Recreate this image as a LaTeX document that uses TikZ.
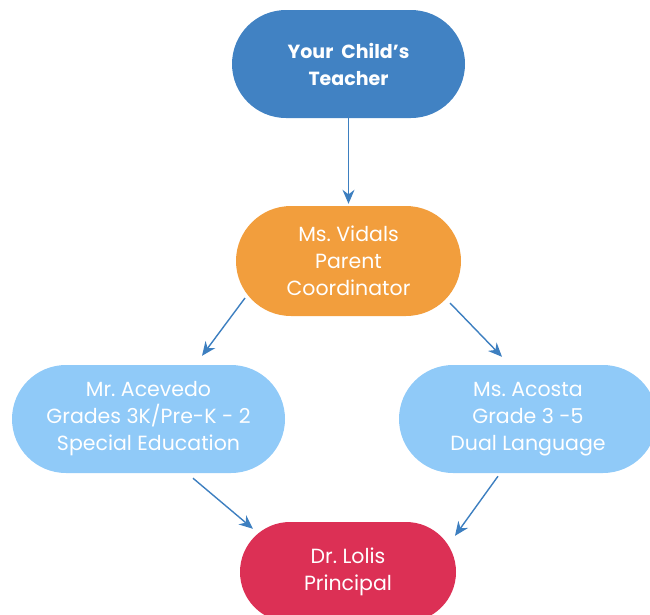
\documentclass[tikz,border=0pt]{standalone}
\usepackage{fontspec}
\setmainfont{Poppins}
\usetikzlibrary{calc,arrows.meta}
\definecolor{cteach}{HTML}{4182C3}
\definecolor{cvid}{HTML}{F29E3D}
\definecolor{clight}{HTML}{90CAF8}
\definecolor{cred}{HTML}{DC3055}
\definecolor{carrow}{HTML}{3D7FC0}
\tikzset{
  pill/.style={rectangle, rounded corners=#1, inner sep=0pt, text=white, align=center,
    font=\fontsize{20.5}{27}\selectfont},
  arr/.style={draw=carrow, line width=1.4pt, -{Stealth[length=14pt,width=12pt]}}
}
\begin{document}
\begin{tikzpicture}[x=1pt,y=-1pt]
\useasboundingbox (0,0) rectangle (650,614);
\node[pill=54pt, fill=cteach, minimum width=233pt, minimum height=108pt,
  font=\fontsize{19}{27}\selectfont\bfseries] (tea) at (348.5,64) {Your\ \ Child's\\Teacher};
\node[pill=55pt, fill=cvid, minimum width=225pt, minimum height=110pt] (vid) at (348.5,261) {Ms.\ Vidals\\Parent\\Coordinator};
\node[pill=54pt, fill=clight, minimum width=273pt, minimum height=108pt] (ace) at (148.5,419) {Mr.\ Acevedo\\Grades 3K/Pre-K - 2\\Special Education};
\node[pill=54pt, fill=clight, minimum width=258pt, minimum height=108pt] (aco) at (528,419) {Ms.\ Acosta\\Grade 3 -5\\Dual Language};
\node[pill=50pt, fill=cred, minimum width=216pt, minimum height=100pt] (lol) at (348,572) {Dr.\ Lolis\\Principal};
\draw[arr] ($(tea.south)+(0,0)$) -- ($(vid.north)+(0,-2)$);
\draw[arr] ($(vid.center)+(-103.5,37)$) -- ($(ace.north)+(53.5,-9)$);
\draw[arr] ($(vid.center)+(101.5,42)$) -- ($(aco.north)+(-26,-8)$);
\draw[arr] ($(ace.south)+(44.5,5)$) -- ($(lol.north)+(-95,7)$);
\draw[arr] ($(aco.south)+(-30,3)$) -- ($(lol.north)+(107,14)$);
\end{tikzpicture}
\end{document}
